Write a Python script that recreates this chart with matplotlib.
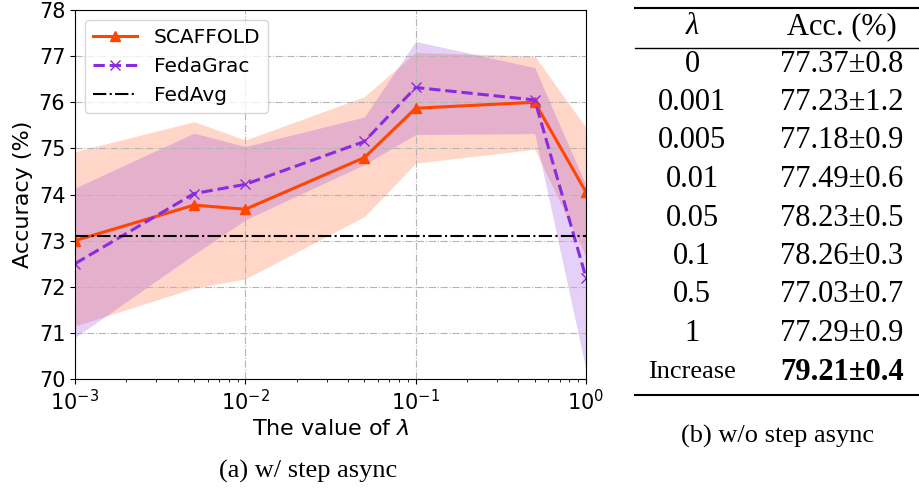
import numpy as np
import matplotlib.pyplot as plt
from matplotlib.lines import Line2D

lam = [0.001, 0.005, 0.01, 0.05, 0.1, 0.5, 1.0]

scaffold = [73.0, 73.77, 73.68, 74.8, 75.87, 76.0, 74.05]
scaffold_hi = [74.93, 75.58, 75.18, 76.12, 77.08, 77.0, 75.45]
scaffold_lo = [71.15, 71.97, 72.17, 73.52, 74.68, 74.98, 72.65]

fedagrac = [72.5, 74.02, 74.22, 75.15, 76.32, 76.05, 72.2]
fedagrac_hi = [74.14, 75.33, 75.04, 75.68, 77.32, 76.75, 74.2]
fedagrac_lo = [70.9, 72.7, 73.45, 74.65, 75.3, 75.32, 70.2]

fedavg = 73.1

# table (b)
tab_lam = ["0", "0.001", "0.005", "0.01", "0.05", "0.1", "0.5", "1", "Increase"]
tab_acc = ["77.37\u00b10.8", "77.23\u00b11.2", "77.18\u00b10.9", "77.49\u00b10.6",
           "78.23\u00b10.5", "78.26\u00b10.3", "77.03\u00b10.7", "77.29\u00b10.9",
           "79.21\u00b10.4"]

W, H = 919, 490
fig = plt.figure(figsize=(W / 100, H / 100), dpi=100)
ax = fig.add_axes([75 / W, 1 - 379 / H, (586 - 75) / W, (379 - 10) / H])

ax.fill_between(lam, scaffold_lo, scaffold_hi, color='orangered', alpha=0.22, lw=0)
ax.fill_between(lam, fedagrac_lo, fedagrac_hi, color='blueviolet', alpha=0.22, lw=0)
ax.plot(lam, scaffold, color='orangered', lw=2.2, marker='^', ms=7.5, label='SCAFFOLD')
ax.plot(lam, fedagrac, color='blueviolet', lw=2.2, ls='--', marker='x', ms=7.5,
        label='FedaGrac')
ax.axhline(fedavg, color='black', lw=1.5, ls='-.', label='FedAvg')

ax.set_xscale('log')
ax.set_xlim(1e-3, 1)
ax.set_ylim(70, 78)
ax.grid(True, which='major', ls='-.', color='#b5b5b5', lw=0.8)
ax.tick_params(labelsize=15)
ax.set_xlabel(r'The value of $\lambda$', fontsize=16)
ax.set_ylabel('Accuracy (%)', fontsize=16)
ax.legend(loc='upper left', fontsize=14.5, handlelength=2.2)

serif = 'Liberation Serif'
fig.text(308 / W, 1 - 471 / H, '(a) w/ step async', family=serif, fontsize=19,
         ha='center', va='center')
fig.text(778 / W, 1 - 436 / H, '(b) w/o step async', family=serif, fontsize=19,
         ha='center', va='center')

# table
c1, c2 = 692 / W, 842 / W
fig.text(c1, 1 - 27 / H, '\u03bb', family=serif, style='italic', fontsize=22,
         ha='center', va='center')
fig.text(c2, 1 - 27 / H, 'Acc. (%)', family=serif, fontsize=22,
         ha='center', va='center')
for i, (a, b) in enumerate(zip(tab_lam, tab_acc)):
    y = 1 - (64 + 38.5 * i) / H
    last = i == len(tab_lam) - 1
    fig.text(c1, y, a, family=serif, fontsize=19 if last else 22,
             ha='center', va='center')
    fig.text(c2, y, b, family=serif, fontsize=22, ha='center', va='center',
             weight='bold' if last else 'normal')

for yy, lw in [(8, 1.5), (48, 1.0), (395, 1.5)]:
    fig.add_artist(Line2D([635 / W, 1.0], [1 - yy / H, 1 - yy / H],
                          color='black', lw=lw, transform=fig.transFigure))

fig.savefig('out.png', dpi=100)
